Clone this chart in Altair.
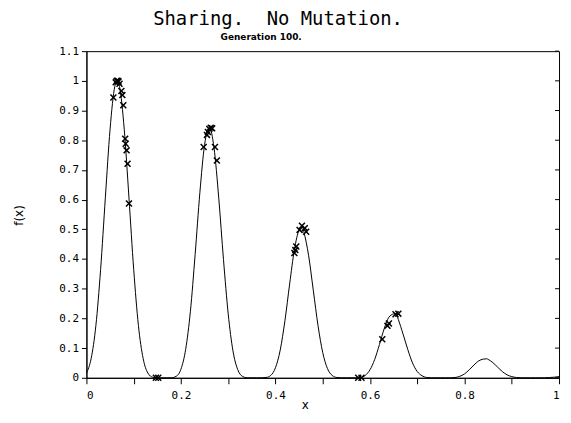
import altair as alt
import pandas as pd

# ---- data ----
curve_x = [0.00, 0.01, 0.02, 0.03, 0.04, 0.05, 0.06, 0.065, 0.07, 0.08,
           0.09, 0.10, 0.11, 0.12, 0.13, 0.14, 0.15, 0.16, 0.17, 0.18,
           0.19, 0.20, 0.21, 0.22, 0.23, 0.24, 0.25, 0.26, 0.27, 0.28,
           0.29, 0.30, 0.31, 0.32, 0.33, 0.34, 0.35, 0.36, 0.37, 0.38,
           0.39, 0.40, 0.41, 0.42, 0.43, 0.44, 0.45, 0.457, 0.46, 0.47,
           0.48, 0.49, 0.50, 0.51, 0.52, 0.53, 0.54, 0.55, 0.56, 0.57,
           0.58, 0.59, 0.60, 0.61, 0.62, 0.63, 0.64, 0.65, 0.655, 0.66,
           0.67, 0.68, 0.69, 0.70, 0.71, 0.72, 0.73, 0.74, 0.75, 0.76,
           0.77, 0.78, 0.79, 0.80, 0.81, 0.82, 0.83, 0.84, 0.847, 0.85,
           0.86, 0.87, 0.88, 0.89, 0.90, 0.91, 0.92, 0.93, 0.94, 0.95,
           0.96, 0.97, 0.98, 0.99, 1.00]
curve_y = [0.016, 0.065, 0.176, 0.365, 0.606, 0.837, 0.981, 1.000, 0.981, 0.837,
           0.606, 0.365, 0.176, 0.065, 0.016, 0.002, 0.000, 0.000, 0.000, 0.000,
           0.005, 0.029, 0.096, 0.224, 0.415, 0.623, 0.785, 0.843, 0.774, 0.605,
           0.398, 0.215, 0.091, 0.028, 0.005, 0.000, 0.000, 0.000, 0.000, 0.001,
           0.008, 0.034, 0.093, 0.192, 0.316, 0.431, 0.498, 0.510, 0.492, 0.413,
           0.295, 0.176, 0.085, 0.031, 0.008, 0.001, 0.000, 0.000, 0.000, 0.000,
           0.001, 0.008, 0.027, 0.062, 0.112, 0.165, 0.204, 0.215, 0.216, 0.196,
           0.147, 0.095, 0.050, 0.021, 0.007, 0.001, 0.000, 0.000, 0.000, 0.000,
           0.000, 0.001, 0.005, 0.013, 0.027, 0.043, 0.057, 0.063, 0.064, 0.062,
           0.051, 0.036, 0.021, 0.010, 0.004, 0.001, 0.000, 0.000, 0.000, 0.000,
           0.000, 0.000, 0.001, 0.002, 0.004]

pop_x = [0.057, 0.062, 0.064, 0.066, 0.068, 0.070, 0.074, 0.076, 0.078, 0.082,
         0.083, 0.085, 0.087, 0.090,
         0.248, 0.255, 0.257, 0.260, 0.263, 0.266, 0.272, 0.276,
         0.440, 0.442, 0.444, 0.451, 0.456, 0.462, 0.465,
         0.626, 0.637, 0.640, 0.654, 0.660,
         0.147, 0.152, 0.575, 0.582]
pop_y = [0.944, 0.995, 1.000, 1.000, 0.998, 0.990, 0.966, 0.952, 0.918, 0.805,
         0.788, 0.766, 0.721, 0.587,
         0.777, 0.818, 0.828, 0.838, 0.842, 0.840, 0.777, 0.732,
         0.420, 0.430, 0.442, 0.498, 0.512, 0.504, 0.492,
         0.130, 0.175, 0.183, 0.214, 0.216,
         0.000, 0.000, 0.000, 0.000]

x_ticks = [0, 0.1, 0.2, 0.3, 0.4, 0.5, 0.6, 0.7, 0.8, 0.9, 1]
y_ticks = [0, 0.1, 0.2, 0.3, 0.4, 0.5, 0.6, 0.7, 0.8, 0.9, 1, 1.1]
title_text = ["Sharing.\u00a0 No Mutation."]
subtitle_text = ["Generation 100."]
x_title = "x"
y_title = "f(x)"

curve = pd.DataFrame({"x": curve_x, "f": curve_y})
pop = pd.DataFrame({"x": pop_x, "f": pop_y})
title_df = pd.DataFrame({"t": title_text})
sub_df = pd.DataFrame({"t": subtitle_text})
rtick_df = pd.DataFrame({"v": y_ticks})

xs = alt.Scale(domain=[0, 1], nice=False, zero=False)
ys = alt.Scale(domain=[0, 1.1], nice=False)

x_axis = alt.Axis(values=x_ticks, format="~g", labelOverlap=False,
                  labelExpr="round(datum.value*10) % 2 == 0 ? datum.label : ''",
                  title=x_title, tickSize=6, labelPadding=6,
                  titleX=220, titleY=27, titleBaseline="middle",
                  titleAlign="center", titleFontSize=12)
y_axis = alt.Axis(values=y_ticks, format="~g", title=y_title,
                  labelOverlap=False, tickSize=5, labelPadding=3,
                  titleX=-68, titleY=165, titleAngle=-90,
                  titleBaseline="middle", titleAlign="center")

line = alt.Chart(curve).mark_line(
    color="black", strokeWidth=1, interpolate="monotone"
).encode(
    x=alt.X("x:Q", scale=xs, axis=x_axis),
    y=alt.Y("f:Q", scale=ys, axis=y_axis),
)

pts = alt.Chart(pop).mark_point(
    shape="M-1,-1L1,1M1,-1L-1,1", size=36, stroke="black",
    strokeWidth=1.5, filled=False, opacity=1
).encode(
    x=alt.X("x:Q", scale=xs, axis=x_axis),
    y=alt.Y("f:Q", scale=ys, axis=y_axis),
)

# small inward ticks on the right-hand frame
rticks = alt.Chart(rtick_df).mark_rule(color="black", strokeWidth=1).encode(
    x=alt.value(472),
    x2=alt.value(476),
    y=alt.Y("v:Q", scale=ys, axis=y_axis),
)

title = alt.Chart(title_df).mark_text(
    font="DejaVu Sans Mono", fontSize=19, color="black",
    baseline="alphabetic", align="center"
).encode(
    text="t:N",
    x=alt.value(193),
    y=alt.value(-26),
)

sub = alt.Chart(sub_df).mark_text(
    font="DejaVu Sans", fontSize=9, fontWeight="bold", color="black",
    baseline="middle", align="center"
).encode(
    text="t:N",
    x=alt.value(176),
    y=alt.value(-14),
)

chart = alt.layer(line, pts, rticks, title, sub).properties(
    width=476,
    height=329,
    autosize=alt.AutoSizeParams(type="none"),
    padding={"left": 79, "top": 42, "right": 4, "bottom": 34},
).configure_view(
    stroke="black", strokeWidth=1
).configure_axis(
    grid=False, domainColor="black", tickColor="black",
    labelColor="black", titleColor="black",
    labelFont="DejaVu Sans Mono", labelFontSize=11,
    titleFont="DejaVu Sans", titleFontSize=12, titleFontWeight="normal",
    domainWidth=1, tickWidth=1,
)

chart.save("out.html", embed_options={"renderer": "svg", "actions": False})
